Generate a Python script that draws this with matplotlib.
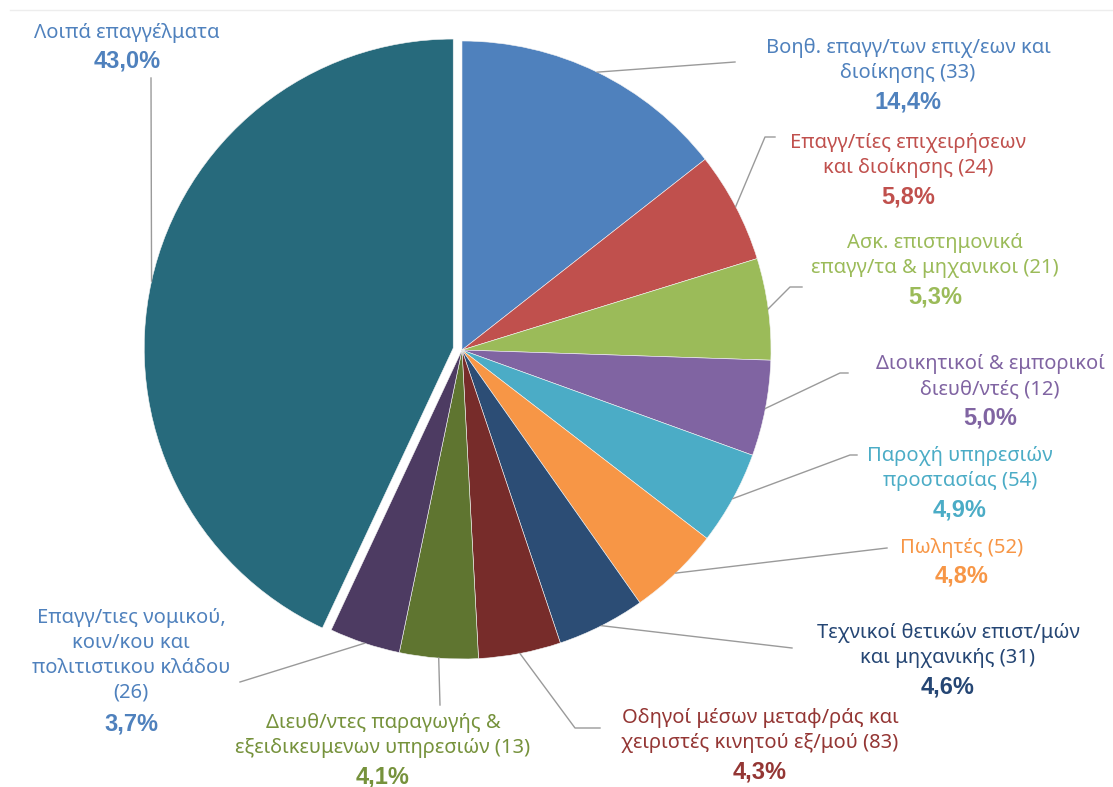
import numpy as np
import matplotlib.pyplot as plt

# shares by occupation group (%)
names = ['Βοηθ. επαγγ/των επιχ/εων και\nδιοίκησης (33)',
         'Επαγγ/τίες επιχειρήσεων\nκαι διοίκησης (24)',
         'Ασκ. επιστημονικά\nεπαγγ/τα & μηχανικοι (21)',
         'Διοικητικοί & εμπορικοί\nδιευθ/ντές (12)',
         'Παροχή υπηρεσιών\nπροστασίας (54)',
         'Πωλητές (52)',
         'Τεχνικοί θετικών επιστ/μών\nκαι μηχανικής (31)',
         'Οδηγοί μέσων μεταφ/ράς και\nχειριστές κινητού εξ/μού (83)',
         'Διευθ/ντες παραγωγής &\nεξειδικευμενων υπηρεσιών (13)',
         'Επαγγ/τιες νομικού,\nκοιν/κου και\nπολιτιστικου κλάδου\n(26)',
         'Λοιπά επαγγέλματα']
shares = [14.4, 5.8, 5.3, 5.0, 4.9, 4.8, 4.6, 4.3, 4.1, 3.7, 43.0]

slice_colors = ['#4F81BD', '#C0504D', '#9BBB59', '#8064A2', '#4BACC6', '#F79646',
                '#2C4D75', '#772C2A', '#5F7530', '#4D3B62', '#276A7C']
text_colors = ['#4F81BD', '#C0504D', '#9BBB59', '#8064A2', '#4BACC6', '#F79646',
               '#254674', '#943634', '#76923C', '#4F81BD', '#4F81BD']

# label layout in pixels from top-left: x centre, y of first line, leader path end
label_pos = [(908, 47), (908, 142), (935, 242), (990, 363), (960, 455), (962, 548),
             (948, 632), (760, 717), (383, 722), (131, 615), (127, 33)]
leader_end = [[(735, 62)],
              [(765, 137), (775, 137)],
              [(790, 287), (802, 287)],
              [(840, 373), (848, 373)],
              [(850, 455), (857, 455)],
              [(887, 548)],
              [(792, 648)],
              [(575, 728), (600, 728)],
              [(440, 705)],
              [(240, 682)],
              [(151, 78)]]

W, H = 1113, 787
LINE = 27


def py(y):
    return H - y


plt.rcParams['font.family'] = ['Noto Sans', 'DejaVu Sans']

fig = plt.figure(figsize=(W / 100, H / 100), dpi=100)
ax = fig.add_axes([0, 0, 1, 1])

cx, cy, R = 462, py(350), 309
explode = [0] * 10 + [9]
wedges, _ = ax.pie(shares, colors=slice_colors, startangle=90, counterclock=False,
                   radius=R, center=(cx, cy), explode=explode,
                   wedgeprops=dict(linewidth=0.4, edgecolor='#F4F4F4'))

ax.set_xlim(0, W)
ax.set_ylim(0, H)
ax.set_aspect('equal')
ax.axis('off')

# faint frame line at the top
ax.plot([10, W], [py(10), py(10)], color='#EDEDED', lw=1)

for i, w in enumerate(wedges):
    mid = np.deg2rad((w.theta1 + w.theta2) / 2)
    wx, wy = w.center
    start = (wx + R * np.cos(mid), wy + R * np.sin(mid))
    xs = [start[0]] + [p[0] for p in leader_end[i]]
    ys = [start[1]] + [py(p[1]) for p in leader_end[i]]
    ax.plot(xs, ys, color='#9A9A9A', lw=1.0)

    x0, y1 = label_pos[i]
    n = names[i].count('\n') + 1
    yc = y1 + (n - 1) * LINE / 2
    ax.text(x0, py(yc), names[i], ha='center', va='center', fontsize=14.5,
            color=text_colors[i], linespacing=1.32)
    pct = f'{shares[i]:.1f}%'.replace('.', ',')
    ax.text(x0, py(y1 + n * LINE + 1), pct, ha='center', va='center',
            fontsize=17, fontweight='bold', color=text_colors[i],
            family=['Liberation Sans', 'DejaVu Sans'])

fig.savefig('out.png', dpi=100)
